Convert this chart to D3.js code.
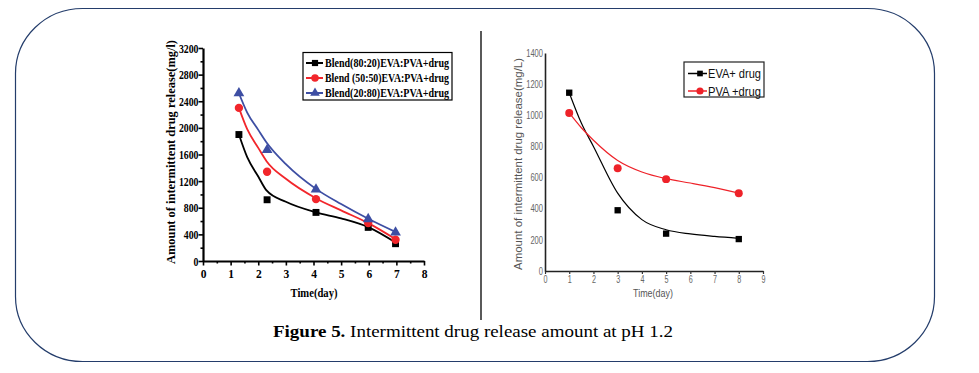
<!DOCTYPE html>
<html>
<head>
<meta charset="utf-8">
<script src="https://cdn.jsdelivr.net/npm/d3@7"></script>
<style>
  body { margin: 0; background: #fff; }
  svg { display: block; }
</style>
</head>
<body>
<div id="chart"></div>
<script>
// left panel data: blends at pH 1.2
var leftDays = [1.3, 2.32, 4.09, 5.98, 6.97];
var blend8020 = [1900, 920, 730, 505, 260];
var blend5050 = [2300, 1340, 930, 570, 320];
var blend2080 = [2520, 1670, 1075, 630, 430];
// fitted curves
var leftFitDays = [1.3, 1.6, 2.0, 2.3, 3.0, 4.1, 5.0, 6.0, 7.0];
var fit8020 = [1900, 1560, 1270, 1060, 890, 730, 640, 505, 270];
var fit5050 = [2300, 1980, 1700, 1500, 1235, 940, 760, 565, 320];
var fit2080 = [2520, 2230, 1970, 1780, 1455, 1080, 855, 630, 430];
var leftNames = ["Blend(80:20)EVA:PVA+drug", "Blend (50:50)EVA:PVA+drug", "Blend(20:80)EVA:PVA+drug"];
var leftXTicks = [0, 1, 2, 3, 4, 5, 6, 7, 8];
var leftYTicks = [0, 400, 800, 1200, 1600, 2000, 2400, 2800, 3200];

// right panel data: single polymers
var rightDays = [1, 3, 5, 8];
var evaDrug = [1145, 390, 240, 205];
var pvaDrug = [1015, 660, 590, 500];
var rightFitDays = [1, 1.5, 2, 3, 4, 5, 6, 7, 8];
var fitEva = [1145, 950, 800, 500, 330, 265, 238, 222, 210];
var fitPva = [1015, 920, 840, 710, 636, 593, 565, 535, 500];
var rightNames = ["EVA+ drug", "PVA +drug"];
var rightXTicks = [0, 1, 2, 3, 4, 5, 6, 7, 8, 9];
var rightYTicks = [0, 200, 400, 600, 800, 1000, 1200, 1400];

var W = 979, H = 373;
var svg = d3.select("#chart").append("svg").attr("width", W).attr("height", H);

//frame round both panels
svg.append("rect")
  .attr("x", 15.5).attr("y", 8.5)
  .attr("width", 919).attr("height", 353)
  .attr("rx", 67).attr("ry", 65)
  .style("fill", "none").style("stroke", "#243d6b").style("stroke-width", 1.2);

svg.append("line")
  .attr("x1", 481).attr("x2", 481).attr("y1", 31).attr("y2", 320)
  .style("stroke", "#000").style("stroke-width", 1.3);

var caption = svg.append("text")
  .attr("x", 273).attr("y", 337)
  .style("font-family", "'Liberation Serif', 'Times New Roman', serif")
  .style("font-size", "16px").style("fill", "#000")
  .attr("textLength", 400).attr("lengthAdjust", "spacingAndGlyphs");
caption.append("tspan").style("font-weight", "bold").text("Figure 5.");
caption.append("tspan").text(" Intermittent drug release amount at pH 1.2");

var serif = "'Liberation Serif', 'Times New Roman', serif";
var sans = "'Liberation Sans', Arial, sans-serif";

// ---------- left panel ----------
var lx = d3.scaleLinear().domain([0, 8]).range([203, 424]);
var ly = d3.scaleLinear().domain([0, 3200]).range([261, 48]);

var lg = svg.append("g");

// minor ticks
lg.append("g").attr("transform", "translate(0,261)")
  .call(d3.axisBottom(lx).tickValues(d3.range(0.5, 8, 1)).tickSize(2.5).tickFormat(""))
  .call(function(g){ g.select(".domain").remove(); })
  .selectAll("line").style("stroke-width", 1.6);
lg.append("g").attr("transform", "translate(203,0)")
  .call(d3.axisLeft(ly).tickValues(d3.range(200, 3200, 400)).tickSize(2.5).tickFormat(""))
  .call(function(g){ g.select(".domain").remove(); })
  .selectAll("line").style("stroke-width", 1.6);

var lxAxis = lg.append("g").attr("transform", "translate(0,261)")
  .call(d3.axisBottom(lx).tickValues(leftXTicks).tickSize(4.5).tickSizeOuter(0).tickPadding(4).tickFormat(d3.format("d")));
var lyAxis = lg.append("g").attr("transform", "translate(203,0)")
  .call(d3.axisLeft(ly).tickValues(leftYTicks).tickSize(4.5).tickSizeOuter(0).tickPadding(0).tickFormat(d3.format("d")));
[lxAxis, lyAxis].forEach(function(a){
  a.select(".domain").style("stroke-width", 2.2);
  a.selectAll("line").style("stroke-width", 1.6);
  a.selectAll("text").style("font-family", serif).style("font-weight", "bold")
    .style("font-size", "11.5px").style("fill", "#000");
});
lyAxis.selectAll("text").attr("dy", "0.35em").attr("textLength", function(d){ return String(d).length * 4.9; })
  .attr("lengthAdjust", "spacingAndGlyphs");

lg.append("text").attr("x", 314).attr("y", 297).attr("text-anchor", "middle")
  .style("font-family", serif).style("font-weight", "bold").style("font-size", "12px")
  .attr("textLength", 47).attr("lengthAdjust", "spacingAndGlyphs")
  .text("Time(day)");
lg.append("text").attr("transform", "translate(175,152) rotate(-90)").attr("text-anchor", "middle")
  .style("font-family", serif).style("font-weight", "bold").style("font-size", "11.5px")
  .attr("textLength", 224).attr("lengthAdjust", "spacingAndGlyphs")
  .text("Amount of intermittent drug release(mg/l)");

var leftSeries = [
  {name: leftNames[0], pts: blend8020, fit: fit8020, color: "#000000", shape: d3.symbolSquare, size: 48},
  {name: leftNames[1], pts: blend5050, fit: fit5050, color: "#f2262b", shape: d3.symbolCircle, size: 55},
  {name: leftNames[2], pts: blend2080, fit: fit2080, color: "#3d4ea3", shape: d3.symbolTriangle, size: 50}
];
var lLine = d3.line().x(function(d){ return lx(d[0]); }).y(function(d){ return ly(d[1]); }).curve(d3.curveMonotoneX);

leftSeries.forEach(function(s){
  lg.append("path").datum(d3.zip(leftFitDays, s.fit)).attr("d", lLine)
    .style("fill", "none").style("stroke", s.color).style("stroke-width", 1.8);
});
leftSeries.forEach(function(s){
  lg.selectAll(null).data(d3.zip(leftDays, s.pts)).enter().append("path")
    .attr("transform", function(d){ return "translate(" + lx(d[0]) + "," + ly(d[1]) + ")"; })
    .attr("d", d3.symbol().type(s.shape).size(s.size))
    .style("fill", s.color);
});

// left legend
var lleg = lg.append("g");
lleg.append("rect").attr("x", 303).attr("y", 52.5).attr("width", 149).attr("height", 47.5)
  .style("fill", "#fff").style("stroke", "#000").style("stroke-width", 1.2);
leftSeries.forEach(function(s, i){
  var yy = 63 + i * 15;
  lleg.append("line").attr("x1", 306).attr("x2", 323).attr("y1", yy).attr("y2", yy)
    .style("stroke", s.color).style("stroke-width", 2);
  lleg.append("path").attr("transform", "translate(315," + yy + ")")
    .attr("d", d3.symbol().type(s.shape).size(s.size * 0.8)).style("fill", s.color);
  lleg.append("text").attr("x", 325).attr("y", yy).attr("dy", "0.35em")
    .style("font-family", serif).style("font-weight", "bold").style("font-size", "12px")
    .attr("textLength", 124).attr("lengthAdjust", "spacingAndGlyphs")
    .text(s.name);
});

// ---------- right panel ----------
var rx = d3.scaleLinear().domain([0, 9]).range([545, 763]);
var ry = d3.scaleLinear().domain([0, 1400]).range([271, 53]);
var rg = svg.append("g");

var rxAxis = rg.append("g").attr("transform", "translate(0,271)")
  .call(d3.axisBottom(rx).tickValues(rightXTicks).tickSize(3).tickSizeOuter(0).tickPadding(2).tickFormat(d3.format("d")));
var ryAxis = rg.append("g").attr("transform", "translate(545,0)")
  .call(d3.axisLeft(ry).tickValues(rightYTicks).tickSize(0).tickSizeOuter(0).tickPadding(2).tickFormat(d3.format("d")));
[rxAxis, ryAxis].forEach(function(a){
  a.select(".domain").style("stroke", "#222").style("stroke-width", 1.6);
  a.selectAll("line").style("stroke", "#333").style("stroke-width", 1.2);
  a.selectAll("text").style("font-family", sans).style("font-size", "10px").style("fill", "#666");
});
ryAxis.selectAll("text").attr("textLength", function(d){ return String(d).length * 4.2; })
  .attr("lengthAdjust", "spacingAndGlyphs");
rxAxis.selectAll("text").attr("textLength", 4).attr("lengthAdjust", "spacingAndGlyphs");

rg.append("text").attr("x", 653).attr("y", 297).attr("text-anchor", "middle")
  .style("font-family", sans).style("font-size", "10.5px").style("fill", "#555")
  .attr("textLength", 40).attr("lengthAdjust", "spacingAndGlyphs")
  .text("Time(day)");
rg.append("text").attr("transform", "translate(522,164) rotate(-90)").attr("text-anchor", "middle")
  .style("font-family", sans).style("font-size", "10px").style("fill", "#555")
  .attr("textLength", 212).attr("lengthAdjust", "spacingAndGlyphs")
  .text("Amount of intermittent drug release(mg/L)");

var rightSeries = [
  {name: rightNames[0], pts: evaDrug, fit: fitEva, color: "#000000", shape: d3.symbolSquare, size: 40},
  {name: rightNames[1], pts: pvaDrug, fit: fitPva, color: "#ee2229", shape: d3.symbolCircle, size: 50}
];
var rLine = d3.line().x(function(d){ return rx(d[0]); }).y(function(d){ return ry(d[1]); }).curve(d3.curveMonotoneX);

rightSeries.forEach(function(s){
  rg.append("path").datum(d3.zip(rightFitDays, s.fit)).attr("d", rLine)
    .style("fill", "none").style("stroke", s.color).style("stroke-width", 1.2);
});
rightSeries.forEach(function(s){
  rg.selectAll(null).data(d3.zip(rightDays, s.pts)).enter().append("path")
    .attr("transform", function(d){ return "translate(" + rx(d[0]) + "," + ry(d[1]) + ")"; })
    .attr("d", d3.symbol().type(s.shape).size(s.size))
    .style("fill", s.color);
});

// right legend
var rleg = rg.append("g");
rleg.append("rect").attr("x", 684).attr("y", 62).attr("width", 80).attr("height", 35)
  .style("fill", "#fff").style("stroke", "#222").style("stroke-width", 1.2);
rightSeries.forEach(function(s, i){
  var yy = 73.5 + i * 17.5;
  rleg.append("line").attr("x1", 688).attr("x2", 707).attr("y1", yy).attr("y2", yy)
    .style("stroke", s.color).style("stroke-width", 1.5);
  rleg.append("path").attr("transform", "translate(700," + yy + ")")
    .attr("d", d3.symbol().type(s.shape).size(s.size * 0.8)).style("fill", s.color);
  rleg.append("text").attr("x", 708).attr("y", yy).attr("dy", "0.35em")
    .style("font-family", sans).style("font-size", "13px").style("fill", "#111")
    .attr("textLength", 53).attr("lengthAdjust", "spacingAndGlyphs")
    .text(s.name);
});
</script>
</body>
</html>
